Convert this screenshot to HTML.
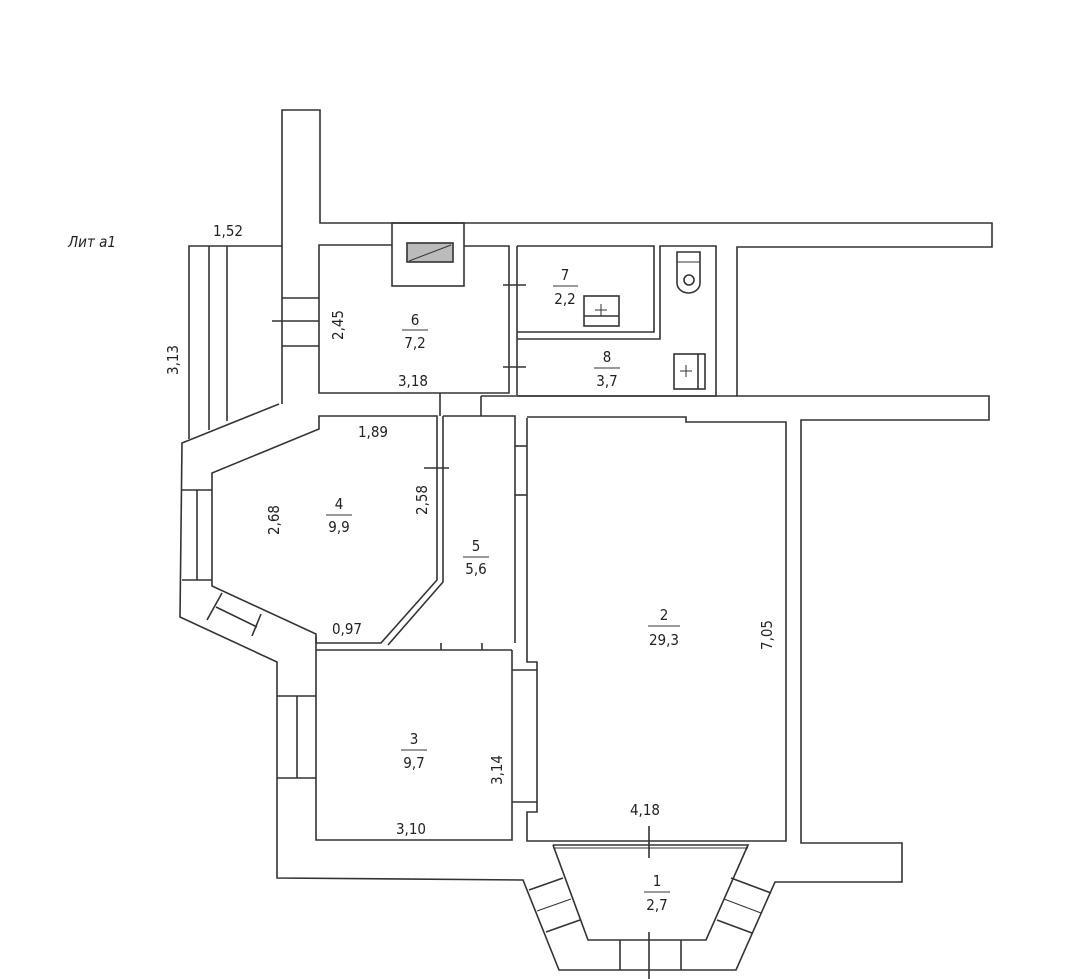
<!DOCTYPE html>
<html><head><meta charset="utf-8"><style>
html,body{margin:0;padding:0;background:#fff;}
svg{display:block}
text{font-family:"DejaVu Sans Condensed","DejaVu Sans","Liberation Sans",sans-serif;font-size:15px;fill:#222;text-anchor:middle}
</style></head><body>
<svg width="1080" height="979" viewBox="0 0 1080 979" xmlns="http://www.w3.org/2000/svg">
<g fill="none" stroke="#333" stroke-width="1.6" stroke-linejoin="miter">
<!-- chimney column + top wall -->
<polyline points="282,404 282,110 320,110 320,223 992,223 992,247 737,247 737,396 989,396 989,420 801,420 801,843 902,843 902,882 775,882 736,970 559,970 523,880 277,878 277,662 180,617 182,443 279,404"/>
<!-- balcony lit a1 -->
<polyline points="282,246 189,246 189,439"/>
<line x1="209" y1="246" x2="209" y2="430"/>
<line x1="227" y1="246" x2="227" y2="421"/>
<!-- window in column -->
<line x1="282" y1="298" x2="319" y2="298"/>
<line x1="282" y1="346" x2="319" y2="346"/>
<line x1="272" y1="321" x2="319" y2="321"/>
<!-- room 6 -->
<polyline points="392,245 319,245 319,393 509,393 509,246 464,246"/>
<rect x="392" y="223" width="72" height="63"/>
<rect x="407" y="243" width="46" height="19" fill="#bbb"/>
<line x1="409" y1="261" x2="451" y2="245" stroke-width="1"/>
<!-- wall 6/7 -->
<polyline points="517,246 517,395"/>
<line x1="503" y1="285" x2="526" y2="285"/>
<line x1="503" y1="367" x2="526" y2="367"/>
<!-- room 7 / 8 -->
<polyline points="517,246 654,246 654,332 517,332"/>
<polyline points="517,339 660,339 660,246 716,246 716,396 517,396"/>
<!-- toilet -->
<path d="M677,252 H700 V283 A11.5,10 0 0 1 677,283 Z"/>
<line x1="677" y1="262" x2="700" y2="262" stroke-width="1"/>
<circle cx="689" cy="280" r="5"/>
<!-- sinks -->
<rect x="584" y="296" width="35" height="30"/>
<line x1="584" y1="316" x2="619" y2="316"/>
<line x1="601" y1="304" x2="601" y2="316" stroke-width="1"/><line x1="595" y1="310" x2="607" y2="310" stroke-width="1"/>
<rect x="674" y="354" width="31" height="35"/>
<line x1="698" y1="354" x2="698" y2="389"/>
<line x1="686" y1="365" x2="686" y2="377" stroke-width="1"/><line x1="680" y1="371" x2="692" y2="371" stroke-width="1"/>
<!-- corridor openings -->
<line x1="440" y1="393" x2="440" y2="416"/>
<line x1="481" y1="396" x2="481" y2="416"/>
<line x1="481" y1="396" x2="737" y2="396"/>
<!-- room 4 -->
<polygon points="319,416 437,416 437,580 381,643 316,643 316,634 212,586 212,473 319,429"/>
<!-- room 4/5 partition -->
<polyline points="443,416 443,582 388,645"/>
<line x1="424" y1="468" x2="449" y2="468"/>
<!-- left window -->
<line x1="182" y1="490" x2="212" y2="490"/>
<line x1="182" y1="580" x2="212" y2="580"/>
<line x1="197" y1="490" x2="197" y2="580"/>
<line x1="222" y1="593" x2="207" y2="620"/>
<line x1="261" y1="614" x2="252" y2="636"/>
<line x1="216" y1="607" x2="257" y2="627"/>
<!-- room 5 -->
<polyline points="443,416 515,416 515,643"/>
<!-- wall row between 4/5 and 3 -->
<line x1="316" y1="650" x2="512" y2="650"/>
<line x1="441" y1="643" x2="441" y2="650"/>
<line x1="482" y1="643" x2="482" y2="650"/>
<line x1="316" y1="637" x2="316" y2="650"/>
<!-- room 3 -->
<polyline points="316,650 316,840 512,840 512,650"/>
<line x1="277" y1="696" x2="316" y2="696"/>
<line x1="277" y1="778" x2="316" y2="778"/>
<line x1="297" y1="696" x2="297" y2="778"/>
<!-- wall between 3 and 2 -->
<polyline points="527,418 527,662 537,662 537,812 527,812 527,841 786,841 786,422 686,422 686,417 527,417"/>
<line x1="512" y1="670" x2="537" y2="670"/>
<line x1="512" y1="802" x2="537" y2="802"/>
<line x1="515" y1="446" x2="527" y2="446"/>
<line x1="515" y1="495" x2="527" y2="495"/>
<!-- room 1 -->
<polyline points="553,845 748,845 706,940 588,940 553,845"/>
<line x1="553" y1="848" x2="748" y2="848" stroke-width="1"/>
<line x1="529" y1="890" x2="563" y2="878"/>
<line x1="546" y1="932" x2="580" y2="920"/>
<line x1="537" y1="911" x2="571" y2="899" stroke-width="1"/>
<line x1="620" y1="940" x2="620" y2="970"/>
<line x1="681" y1="940" x2="681" y2="970"/>
<line x1="731" y1="878" x2="771" y2="893"/>
<line x1="717" y1="920" x2="752" y2="933"/>
<line x1="724" y1="899" x2="761" y2="913" stroke-width="1"/>
<line x1="649" y1="826" x2="649" y2="858"/>
<line x1="649" y1="932" x2="649" y2="979"/>
</g>
<text x="92" y="247" style="font-style:italic">Лит а1</text>
<text x="228" y="236">1,52</text>
<text transform="translate(178,360) rotate(-90)">3,13</text>
<text transform="translate(343,325) rotate(-90)">2,45</text>
<text x="415" y="325">6</text><line x1="402" y1="330" x2="428" y2="330" stroke="#333"/><text x="415" y="348">7,2</text>
<text x="413" y="386">3,18</text>
<text x="565" y="280">7</text><line x1="553" y1="286" x2="578" y2="286" stroke="#333"/><text x="565" y="304">2,2</text>
<text x="607" y="362">8</text><line x1="594" y1="368" x2="620" y2="368" stroke="#333"/><text x="607" y="386">3,7</text>
<text x="373" y="437">1,89</text>
<text transform="translate(279,520) rotate(-90)">2,68</text>
<text x="339" y="509">4</text><line x1="326" y1="515" x2="352" y2="515" stroke="#333"/><text x="339" y="532">9,9</text>
<text transform="translate(427,500) rotate(-90)">2,58</text>
<text x="476" y="551">5</text><line x1="463" y1="557" x2="489" y2="557" stroke="#333"/><text x="476" y="574">5,6</text>
<text x="347" y="634">0,97</text>
<text x="664" y="620">2</text><line x1="648" y1="626" x2="680" y2="626" stroke="#333"/><text x="664" y="645">29,3</text>
<text transform="translate(772,635) rotate(-90)">7,05</text>
<text x="414" y="744">3</text><line x1="401" y1="750" x2="427" y2="750" stroke="#333"/><text x="414" y="768">9,7</text>
<text transform="translate(502,770) rotate(-90)">3,14</text>
<text x="411" y="834">3,10</text>
<text x="645" y="815">4,18</text>
<text x="657" y="886">1</text><line x1="644" y1="892" x2="670" y2="892" stroke="#333"/><text x="657" y="910">2,7</text>
</svg>
</body></html>
